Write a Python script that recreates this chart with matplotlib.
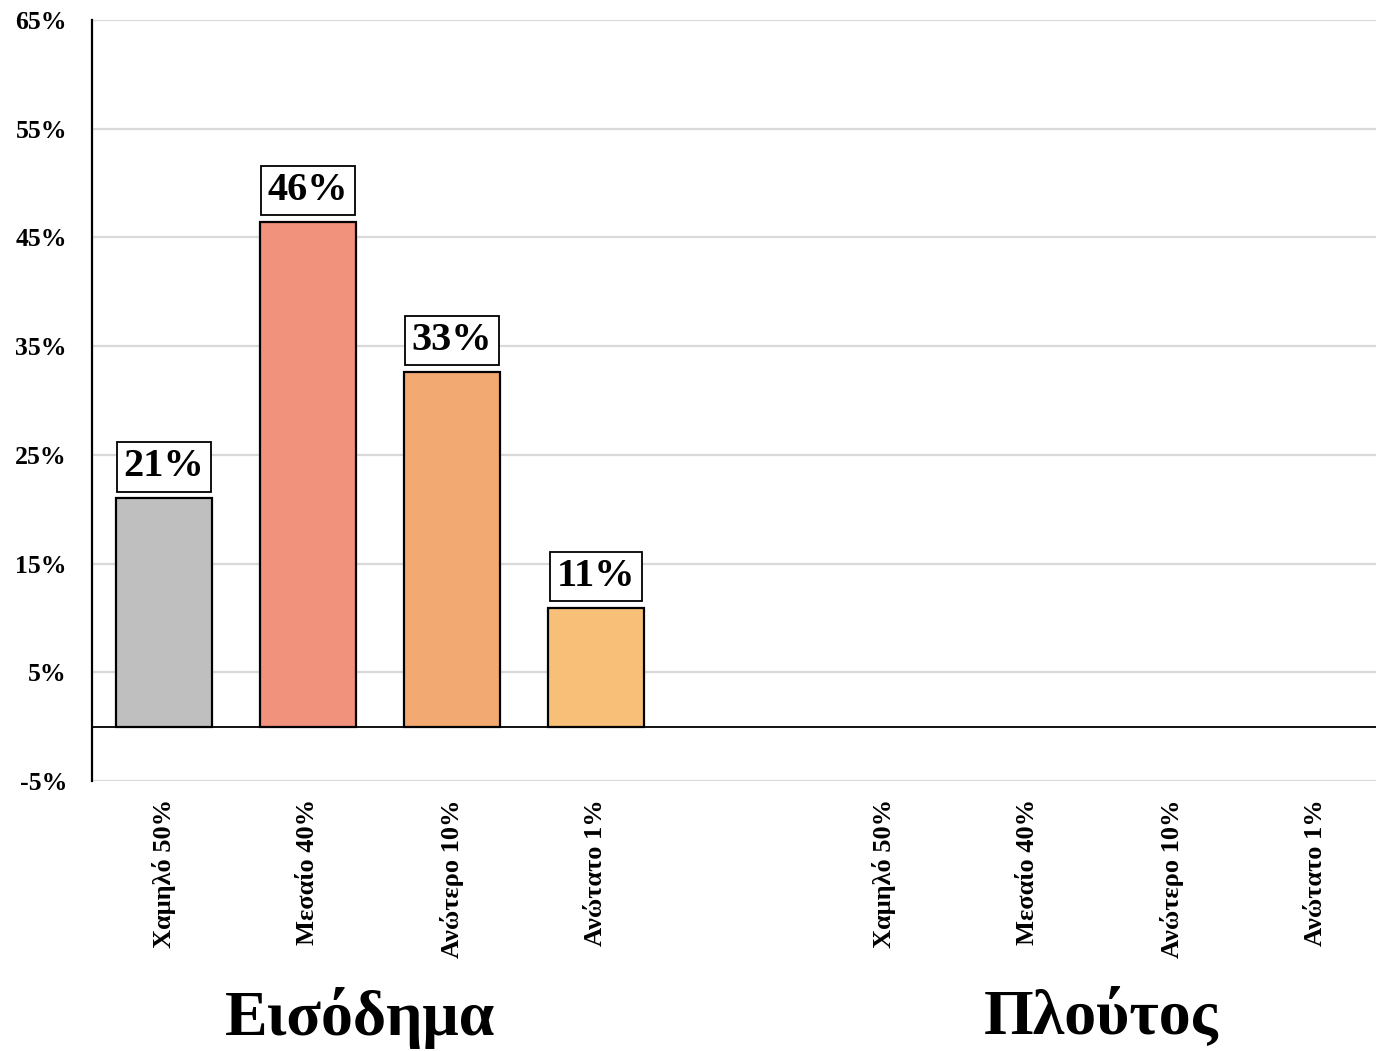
import matplotlib
matplotlib.use("Agg")
import matplotlib.pyplot as plt
from matplotlib.transforms import blended_transform_factory

plt.rcParams['font.family'] = ['Liberation Serif', 'DejaVu Serif']
plt.rcParams['font.weight'] = 'bold'

categories = ["Χαμηλό 50%", "Μεσαίο 40%", "Ανώτερο 10%", "Ανώτατο 1%"]
groups = ["Εισόδημα", "Πλούτος"]
income_values = [21.0, 46.4, 32.6, 10.9]
wealth_values = [None, None, None, None]
bar_colors = ["#BFBFBF", "#F1927C", "#F3AA72", "#F8BF78"]
yticks = [-5, 5, 15, 25, 35, 45, 55, 65]

W, H = 1376, 1051
fig = plt.figure(figsize=(W / 100, H / 100), dpi=100)
left = 92 / W
bottom = (H - 781) / H
top = 1 - 20 / H
ax = fig.add_axes([left, bottom, 1 - left, top - bottom])

pos_income = [0, 1, 2, 3]
pos_wealth = [5, 6, 7, 8]

ax.bar(pos_income, income_values, width=0.667, color=bar_colors,
       edgecolor="black", linewidth=1.6, zorder=3)

for x, v in zip(pos_income, income_values):
    ax.annotate(f"{round(v):d}%", xy=(x, v), xytext=(0, 9.5),
                textcoords="offset points", ha="center", va="bottom",
                fontsize=29, fontweight="bold",
                bbox=dict(boxstyle="square,pad=0.16", fc="white", ec="black", lw=1.3),
                zorder=5)

ax.set_ylim(-5, 65)
ax.set_xlim(-0.5, 8.417)
ax.set_yticks(yticks)
ax.set_yticklabels([f"{t}%" for t in yticks], fontsize=18.5, fontweight="bold")
ax.yaxis.grid(True, color="#D9D9D9", linewidth=1.6, zorder=0)
ax.set_axisbelow(True)
ax.axhline(0, color="black", linewidth=1.3, zorder=4)
ax.tick_params(axis="y", length=0, pad=18)

ax.set_xticks(pos_income + pos_wealth)
ax.set_xticklabels(categories + categories, rotation=90, fontsize=19, fontweight="bold")
ax.tick_params(axis="x", length=0, pad=13)

for s in ["top", "right", "bottom"]:
    ax.spines[s].set_visible(False)
ax.spines["left"].set_linewidth(1.6)
ax.spines["left"].set_color("black")

trans = blended_transform_factory(ax.transData, fig.transFigure)
group_x = [(360 - 164) / 144, (1101 - 164) / 144]
for gx, g in zip(group_x, groups):
    fig.text(gx, (H - 1018) / H, g, transform=trans, ha="center", va="center",
             fontsize=46, fontweight="bold")

fig.savefig("out.png", dpi=100)
